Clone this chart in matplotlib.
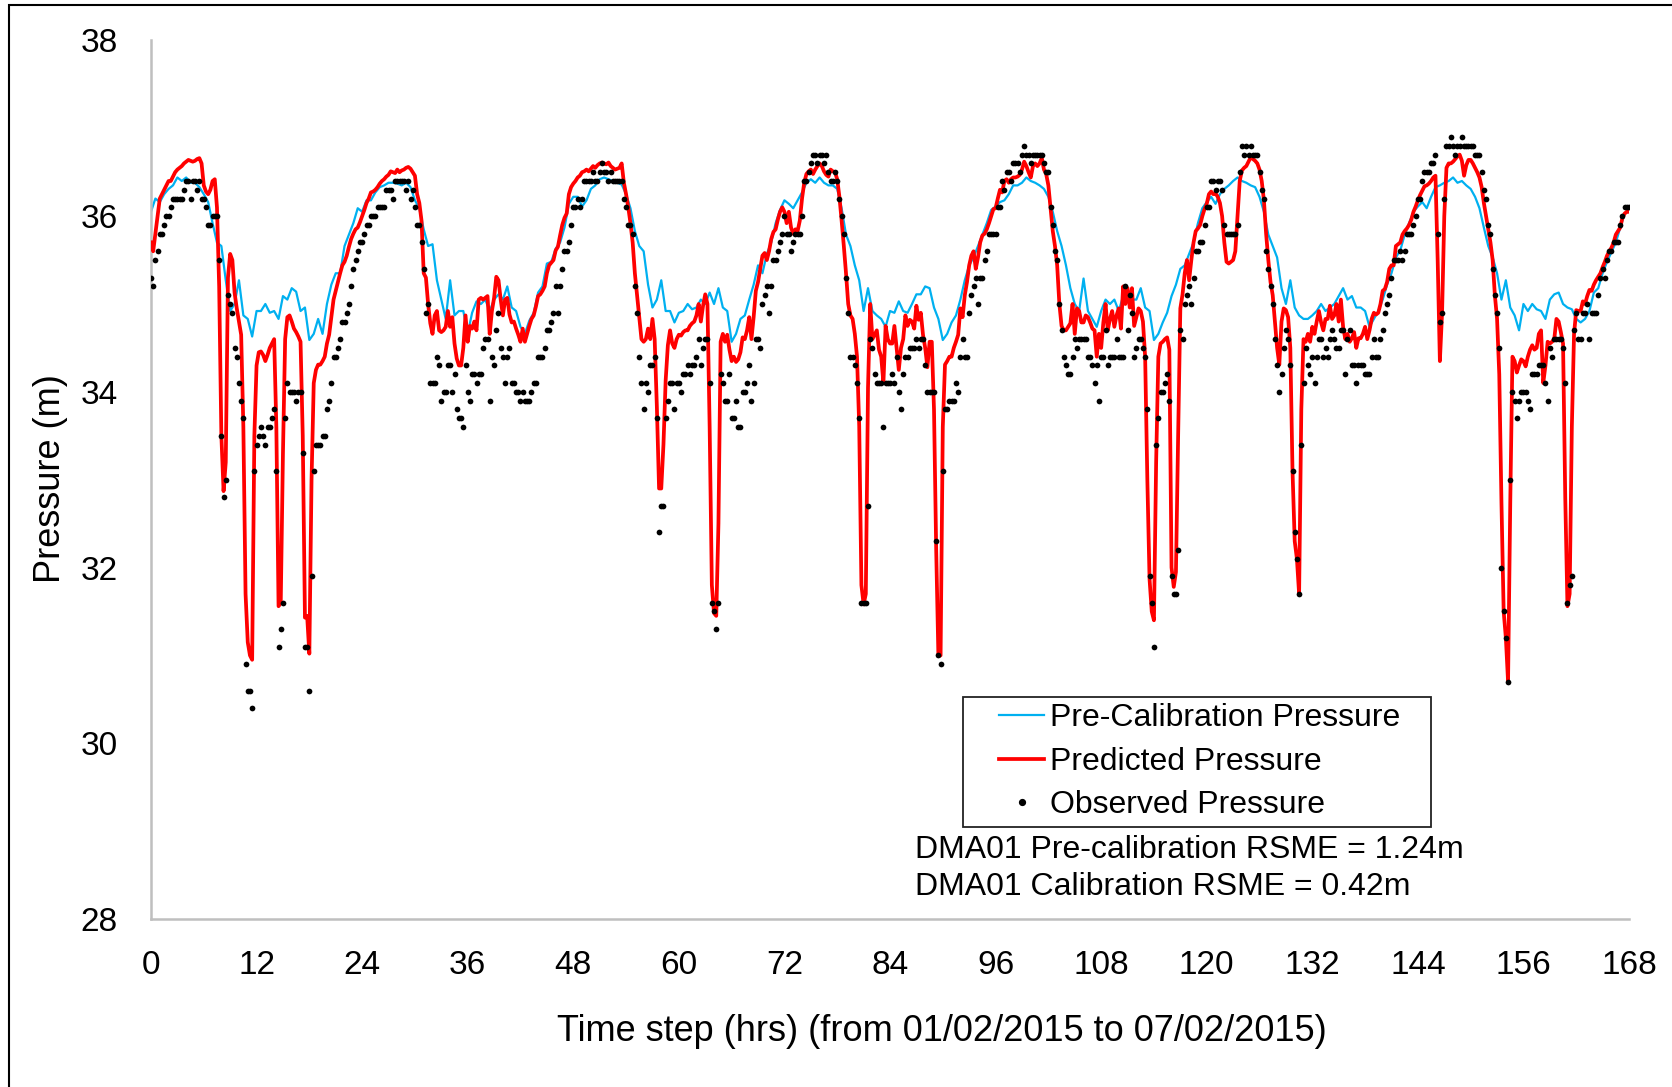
import numpy as np
import matplotlib
matplotlib.use("Agg")
import matplotlib.pyplot as plt
from matplotlib.lines import Line2D
from matplotlib.patches import Rectangle

plt.rcParams['font.family'] = ['Liberation Sans', 'DejaVu Sans']

# ---------------------------------------------------------------- data
# Pre-calibration model pressure (m), every 0.5 h from 0 to 168 h
pre_calibration = [
    36.05, 36.2, 36.16, 36.25, 36.31, 36.35, 36.44, 36.4, 36.44, 36.38, 36.38, 36.33, 36.25, 36.16,
    35.92, 35.7, 35.66, 35.27, 34.92, 35.0, 35.27, 34.87, 34.83, 34.63, 34.92, 34.92, 35.0, 34.9,
    34.92, 34.83, 35.09, 35.05, 35.18, 35.14, 34.92, 34.96, 34.59, 34.66, 34.83, 34.66, 35.0, 35.22,
    35.35, 35.35, 35.66, 35.79, 35.92, 36.09, 36.05, 36.18, 36.18, 36.27, 36.33, 36.35, 36.38, 36.38,
    # 28 h
    36.37, 36.35, 36.38, 36.33, 36.18, 36.09, 35.85, 35.66, 35.68, 35.27, 35.05, 34.83, 35.27, 34.87,
    34.92, 34.92, 34.66, 34.9, 35.03, 35.0, 35.05, 34.92, 35.05, 35.11, 35.05, 35.2, 34.96, 34.92,
    34.74, 34.66, 34.81, 34.9, 35.13, 35.2, 35.46, 35.48, 35.63, 35.7, 35.87, 36.14, 36.22, 36.22,
    36.11, 36.18, 36.31, 36.35, 36.42, 36.44, 36.42, 36.4, 36.38, 36.36, 36.25, 36.09, 35.83, 35.66,
    # 56 h
    35.6, 35.22, 34.96, 35.05, 35.27, 34.92, 34.92, 34.79, 34.9, 34.92, 35.0, 34.94, 34.96, 35.05,
    35.0, 35.13, 35.0, 35.18, 34.96, 34.92, 34.57, 34.66, 34.83, 34.87, 35.05, 35.22, 35.44, 35.35,
    35.57, 35.7, 35.92, 36.07, 36.18, 36.14, 36.09, 36.18, 36.27, 36.38, 36.42, 36.38, 36.44, 36.38,
    36.35, 36.35, 36.31, 36.09, 35.79, 35.66, 35.44, 35.27, 34.92, 35.18, 34.92, 34.87, 34.83, 34.74,
    # 84 h
    34.92, 34.9, 35.03, 34.92, 34.9, 35.0, 35.11, 35.11, 35.2, 35.18, 34.96, 34.83, 34.59, 34.66,
    34.79, 34.87, 35.05, 35.27, 35.44, 35.53, 35.66, 35.79, 35.92, 36.07, 36.11, 36.16, 36.18, 36.25,
    36.35, 36.35, 36.38, 36.44, 36.4, 36.38, 36.35, 36.31, 36.22, 36.05, 35.83, 35.66, 35.44, 35.18,
    35.0, 34.92, 35.29, 34.92, 34.83, 34.74, 34.92, 35.05, 35.0, 35.05, 34.92, 35.09, 35.11, 35.05,
    # 112 h
    35.05, 35.18, 34.96, 34.92, 34.59, 34.66, 34.79, 34.9, 35.09, 35.22, 35.4, 35.44, 35.57, 35.7,
    35.92, 36.09, 36.16, 36.22, 36.14, 36.25, 36.31, 36.35, 36.4, 36.44, 36.4, 36.38, 36.35, 36.33,
    36.22, 36.05, 35.79, 35.66, 35.53, 35.18, 35.0, 35.27, 34.96, 34.87, 34.83, 34.83, 34.87, 34.92,
    35.0, 34.92, 34.96, 35.0, 35.09, 35.18, 35.05, 35.09, 34.96, 34.96, 34.92, 34.74, 34.83, 34.92,
    # 140 h
    35.05, 35.22, 35.35, 35.53, 35.61, 35.79, 35.92, 36.05, 36.11, 36.16, 36.09, 36.22, 36.33, 36.35,
    36.38, 36.4, 36.44, 36.38, 36.4, 36.35, 36.31, 36.22, 36.09, 35.87, 35.66, 35.53, 35.35, 35.05,
    35.27, 34.96, 34.87, 34.7, 35.0, 34.92, 35.0, 34.94, 34.92, 34.83, 35.05, 35.11, 35.13, 35.0,
    34.96, 34.94, 34.83, 34.79, 34.83, 34.92, 35.13, 35.18, 35.35, 35.48, 35.59, 35.7, 35.87, 36.03,
    36.05,
]

# Calibrated model pressure (m), every 0.25 h; one row = one hour
predicted = [
    35.7, 35.6, 35.8, 36.0,   36.2, 36.25, 36.3, 36.35,   36.4, 36.4, 36.45, 36.5,   36.53, 36.55, 36.57, 36.6,
    36.62, 36.64, 36.63, 36.62,   36.63, 36.65, 36.66, 36.6,   36.35, 36.28, 36.25, 36.3,   36.4, 36.42, 36.1, 35.2,
    33.5, 32.87, 33.2, 35.3,   35.57, 35.5, 35.13, 34.95,   34.8, 34.65, 33.6, 31.7,   31.15, 31.0, 30.95, 33.5,
    34.3, 34.45, 34.46, 34.42,   34.35, 34.42, 34.5, 34.55,   34.6, 33.6, 31.56, 31.6,   33.3, 34.6, 34.85, 34.87,
    34.8, 34.72, 34.68, 34.63,   34.57, 33.5, 31.43, 31.45,   31.02, 33.0, 34.1, 34.25,   34.31, 34.31, 34.35, 34.4,
    34.55, 34.65, 34.85, 35.05,   35.15, 35.25, 35.35, 35.44,   35.48, 35.55, 35.65, 35.74,   35.8, 35.85, 35.87, 35.93,
    # 24 h
    36.0, 36.07, 36.15, 36.2,   36.27, 36.28, 36.3, 36.33,   36.37, 36.4, 36.42, 36.45,   36.47, 36.51, 36.5, 36.49,
    36.53, 36.5, 36.52, 36.53,   36.55, 36.56, 36.54, 36.5,   36.46, 36.25, 36.15, 35.95,   35.35, 35.3, 35.0, 34.78,
    34.66, 34.87, 34.92, 34.7,   34.68, 34.7, 34.74, 34.92,   34.74, 34.85, 34.55, 34.38,   34.3, 34.3, 34.5, 34.87,
    34.57, 34.75, 34.72, 34.8,   34.7, 35.05, 35.07, 35.05,   35.07, 35.09, 34.66, 34.92,   35.07, 35.31, 35.27, 35.05,
    34.87, 35.05, 35.07, 34.88,   34.79, 34.8, 34.72, 34.65,   34.57, 34.72, 34.57, 34.66,   34.75, 34.83, 34.87, 34.97,
    35.09, 35.11, 35.15, 35.2,   35.35, 35.44, 35.47, 35.5,   35.61, 35.65, 35.78, 35.9,   35.98, 36.03, 36.25, 36.33,
    # 48 h
    36.37, 36.4, 36.44, 36.46,   36.5, 36.51, 36.53, 36.51,   36.54, 36.57, 36.55, 36.58,   36.6, 36.61, 36.6, 36.59,
    36.61, 36.57, 36.55, 36.53,   36.54, 36.55, 36.6, 36.38,   36.25, 36.1, 35.92, 35.7,   35.35, 35.1, 34.85, 34.6,
    34.57, 34.6, 34.72, 34.6,   34.83, 34.6, 33.83, 32.9,   32.9, 33.4, 34.13, 34.53,   34.7, 34.55, 34.5, 34.6,
    34.65, 34.64, 34.68, 34.7,   34.7, 34.75, 34.78, 34.8,   34.87, 35.0, 34.8, 34.98,   35.11, 35.0, 33.6, 31.8,
    31.48, 31.45, 32.5, 34.57,   34.66, 34.57, 34.65, 34.48,   34.35, 34.4, 34.34, 34.37,   34.45, 34.62, 34.6, 34.7,
    34.85, 34.6, 34.85, 35.15,   35.25, 35.4, 35.55, 35.58,   35.5, 35.6, 35.74, 35.82,   35.85, 35.96, 36.05, 36.1,
    # 72 h
    36.05, 35.92, 36.05, 35.87,   35.8, 35.85, 35.83, 35.95,   36.2, 36.38, 36.48, 36.51,   36.53, 36.48, 36.53, 36.57,
    36.6, 36.57, 36.51, 36.47,   36.45, 36.53, 36.51, 36.5,   36.42, 36.22, 35.95, 35.66,   35.35, 35.0, 34.87, 34.83,
    34.66, 34.4, 33.61, 31.8,   31.58, 31.7, 34.05, 35.0,   34.6, 34.65, 34.7, 34.48,   34.4, 34.1, 34.75, 34.6,
    34.55, 34.55, 34.75, 34.5,   34.25, 34.5, 34.6, 34.87,   34.75, 34.82, 34.8, 34.72,   34.98, 34.82, 34.9, 34.65,
    34.5, 34.28, 34.57, 34.57,   33.8, 32.2, 30.99, 31.0,   33.6, 34.31, 34.35, 34.4,   34.4, 34.5, 34.57, 34.65,
    34.95, 34.85, 35.1, 35.25,   35.44, 35.55, 35.6, 35.4,   35.53, 35.7, 35.78, 35.8,   35.85, 35.92, 36.0, 36.08,
    # 96 h
    36.09, 36.2, 36.3, 36.27,   36.4, 36.42, 36.38, 36.42,   36.44, 36.44, 36.45, 36.47,   36.53, 36.62, 36.57, 36.5,
    36.44, 36.57, 36.6, 36.57,   36.6, 36.66, 36.53, 36.48,   36.35, 36.09, 35.83, 35.66,   35.44, 35.0, 34.75, 34.7,
    34.7, 34.74, 34.78, 35.0,   34.66, 34.95, 34.92, 34.79,   34.79, 34.87, 34.85, 34.79,   34.72, 34.7, 34.4, 34.66,
    34.5, 34.79, 35.0, 34.7,   34.83, 34.92, 34.74, 34.87,   34.95, 34.72, 35.2, 35.0,   35.18, 34.96, 35.18, 34.75,
    34.85, 34.95, 34.92, 34.8,   34.4, 33.0, 31.87, 31.5,   31.4, 33.2, 34.4, 34.55,   34.57, 34.6, 34.62, 34.48,
    32.0, 31.78, 31.95, 33.5,   34.95, 35.11, 35.35, 35.5,   35.27, 35.5, 35.7, 35.83,   35.86, 35.9, 36.0, 36.08,
    # 120 h
    36.14, 36.25, 36.28, 36.25,   36.26, 36.22, 36.15, 36.0,   35.7, 35.48, 35.46, 35.48,   35.5, 35.6, 36.0, 36.4,
    36.52, 36.55, 36.57, 36.62,   36.67, 36.65, 36.63, 36.6,   36.53, 36.4, 36.18, 35.8,   35.5, 35.25, 35.1, 34.8,
    34.5, 34.31, 34.8, 34.95,   34.93, 34.85, 34.5, 33.1,   32.3, 32.1, 31.7, 33.8,   34.6, 34.57, 34.66, 34.57,
    34.74, 34.66, 34.8, 34.92,   34.79, 34.7, 34.83, 34.83,   34.98, 34.83, 34.87, 35.0,   34.8, 35.05, 34.74, 34.6,
    34.66, 34.57, 34.61, 34.68,   34.5, 34.61, 34.61, 34.66,   34.74, 34.6, 34.7, 34.83,   34.9, 34.88, 34.9, 35.0,
    35.15, 35.17, 35.25, 35.4,   35.44, 35.44, 35.66, 35.68,   35.7, 35.79, 35.83, 35.86,   35.9, 35.96, 36.05, 36.11,
    # 144 h
    36.18, 36.24, 36.29, 36.34,   36.35, 36.37, 36.4, 36.44,   36.46, 35.5, 34.35, 34.9,   36.0, 36.55, 36.6, 36.6,
    36.62, 36.65, 36.68, 36.7,   36.63, 36.46, 36.58, 36.64,   36.64, 36.6, 36.55, 36.5,   36.44, 36.33, 36.15, 36.0,
    35.85, 35.7, 35.5, 35.1,   34.83, 34.2, 32.74, 31.5,   31.2, 30.7, 32.74, 34.4,   34.35, 34.22, 34.3, 34.37,
    34.35, 34.29, 34.4, 34.48,   34.53, 34.48, 34.5, 34.66,   34.7, 34.1, 34.3, 34.57,   34.55, 34.57, 34.6, 34.83,
    34.8, 34.68, 34.55, 32.8,   31.56, 31.7, 33.6, 34.66,   34.93, 34.92, 34.92, 35.03,   35.0, 35.09, 35.16, 35.15,
    35.22, 35.27, 35.31, 35.35,   35.42, 35.48, 35.55, 35.6,   35.64, 35.7, 35.79, 35.83,   35.87, 35.98, 36.03, 36.05,
    36.05,
]

# Logged pressure (m), every 0.25 h; one row = one hour
observed = [
    35.3, 35.2, 35.5, 35.6,   35.8, 35.8, 35.9, 36.0,   36.0, 36.1, 36.2, 36.2,   36.2, 36.2, 36.2, 36.3,
    36.4, 36.4, 36.2, 36.4,   36.4, 36.3, 36.4, 36.2,   36.2, 36.1, 35.9, 35.9,   36.0, 36.0, 36.0, 35.5,
    33.5, 32.8, 33.0, 35.1,   35.0, 34.9, 34.5, 34.4,   34.1, 33.9, 33.7, 30.9,   30.6, 30.6, 30.4, 33.1,
    33.4, 33.5, 33.6, 33.5,   33.4, 33.6, 33.6, 33.7,   33.8, 33.1, 31.1, 31.3,   31.6, 33.7, 34.1, 34.0,
    34.0, 34.0, 33.9, 34.0,   34.0, 33.3, 31.1, 31.1,   30.6, 31.9, 33.1, 33.4,   33.4, 33.4, 33.5, 33.5,
    33.8, 33.9, 34.1, 34.4,   34.4, 34.5, 34.6, 34.8,   34.8, 34.9, 35.0, 35.2,   35.4, 35.5, 35.6, 35.7,
    # 24 h
    35.7, 35.8, 35.9, 35.9,   36.0, 36.0, 36.0, 36.1,   36.1, 36.1, 36.1, 36.3,   36.3, 36.3, 36.2, 36.4,
    36.4, 36.4, 36.4, 36.4,   36.3, 36.4, 36.2, 36.3,   36.1, 35.9, 35.9, 35.7,   35.4, 34.9, 35.0, 34.1,
    34.1, 34.1, 34.4, 34.3,   33.9, 34.0, 34.0, 34.3,   34.3, 34.0, 34.2, 33.8,   33.7, 33.7, 33.6, 34.3,
    34.0, 33.9, 34.2, 34.2,   34.1, 34.2, 34.2, 34.5,   34.6, 34.6, 33.9, 34.4,   34.3, 34.7, 34.9, 34.5,
    34.4, 34.1, 34.4, 34.5,   34.1, 34.1, 34.0, 34.0,   33.9, 34.0, 33.9, 33.9,   33.9, 34.0, 34.1, 34.1,
    34.4, 34.4, 34.4, 34.5,   34.7, 34.7, 34.8, 34.9,   35.2, 34.9, 35.2, 35.4,   35.6, 35.6, 35.7, 35.9,
    # 48 h
    36.1, 36.1, 36.2, 36.1,   36.2, 36.4, 36.4, 36.4,   36.4, 36.5, 36.4, 36.4,   36.5, 36.6, 36.5, 36.5,
    36.4, 36.5, 36.4, 36.4,   36.4, 36.4, 36.4, 36.2,   36.1, 35.9, 35.9, 35.8,   35.2, 34.9, 34.4, 34.1,
    33.8, 34.1, 34.0, 34.3,   34.3, 34.4, 33.7, 32.4,   32.7, 32.7, 33.7, 33.9,   34.1, 34.1, 33.8, 34.1,
    34.1, 34.0, 34.2, 34.2,   34.3, 34.2, 34.3, 34.3,   34.4, 34.6, 34.3, 34.5,   34.6, 34.6, 34.1, 31.6,
    31.5, 31.3, 31.6, 34.2,   34.1, 33.9, 33.9, 34.2,   33.7, 33.7, 33.9, 33.6,   33.6, 34.0, 34.0, 34.1,
    34.3, 33.9, 34.1, 34.6,   34.6, 34.5, 35.0, 35.1,   35.2, 34.9, 35.2, 35.5,   35.5, 35.6, 35.7, 35.8,
    # 72 h
    36.0, 35.8, 35.8, 35.6,   35.7, 35.8, 35.8, 35.8,   36.0, 36.4, 36.4, 36.5,   36.6, 36.7, 36.7, 36.6,
    36.7, 36.7, 36.6, 36.7,   36.5, 36.4, 36.4, 36.5,   36.4, 36.2, 36.0, 35.8,   35.3, 34.9, 34.4, 34.4,
    34.3, 34.1, 33.7, 31.6,   31.6, 31.6, 32.7, 34.6,   34.5, 34.2, 34.1, 34.1,   34.1, 33.6, 34.1, 34.1,
    34.1, 34.2, 34.1, 34.4,   34.0, 33.8, 34.2, 34.4,   34.4, 34.5, 34.5, 34.5,   34.6, 34.5, 34.6, 34.6,
    34.3, 34.0, 34.0, 34.0,   34.0, 32.3, 31.0, 30.9,   33.1, 33.8, 33.8, 33.9,   33.9, 33.9, 34.1, 34.0,
    34.4, 34.6, 34.4, 34.4,   34.9, 35.1, 35.2, 35.3,   35.0, 35.3, 35.3, 35.5,   35.6, 35.8, 35.8, 35.8,
    # 96 h
    35.8, 36.1, 36.1, 36.4,   36.3, 36.5, 36.5, 36.4,   36.6, 36.6, 36.6, 36.5,   36.7, 36.8, 36.7, 36.7,
    36.6, 36.7, 36.7, 36.7,   36.7, 36.7, 36.6, 36.5,   36.5, 36.1, 35.9, 35.6,   35.5, 35.0, 34.7, 34.4,
    34.3, 34.2, 34.2, 34.4,   34.6, 34.5, 34.6, 34.6,   34.6, 34.6, 34.4, 34.4,   34.3, 34.1, 34.3, 33.9,
    34.4, 34.4, 34.7, 34.3,   34.4, 34.4, 34.4, 34.6,   34.4, 34.4, 34.4, 35.2,   34.7, 35.1, 34.9, 34.4,
    34.5, 34.6, 34.6, 34.5,   34.4, 33.8, 31.9, 31.6,   31.1, 33.4, 33.7, 34.0,   34.0, 34.1, 34.2, 33.9,
    31.9, 31.7, 31.7, 32.2,   34.7, 34.6, 35.0, 35.1,   35.2, 35.0, 35.3, 35.6,   35.6, 35.7, 35.7, 35.9,
    # 120 h
    36.1, 36.1, 36.4, 36.4,   36.3, 36.4, 36.4, 36.3,   35.9, 35.8, 35.8, 35.8,   35.8, 35.8, 35.9, 36.5,
    36.8, 36.7, 36.8, 36.7,   36.8, 36.7, 36.7, 36.7,   36.5, 36.3, 36.2, 35.6,   35.4, 35.2, 35.0, 34.6,
    34.3, 34.0, 34.2, 34.5,   34.7, 34.6, 34.3, 33.1,   32.4, 32.1, 31.7, 33.4,   34.1, 34.5, 34.3, 34.2,
    34.4, 34.1, 34.4, 34.6,   34.6, 34.4, 34.5, 34.4,   34.6, 34.7, 34.6, 34.5,   34.5, 34.7, 34.7, 34.2,
    34.6, 34.7, 34.3, 34.3,   34.1, 34.3, 34.3, 34.3,   34.2, 34.2, 34.2, 34.4,   34.6, 34.4, 34.4, 34.6,
    34.7, 34.9, 35.0, 35.1,   35.3, 35.5, 35.5, 35.5,   35.6, 35.5, 35.6, 35.8,   35.8, 35.8, 35.9, 36.0,
    # 144 h
    36.2, 36.2, 36.4, 36.5,   36.5, 36.5, 36.6, 36.6,   36.7, 35.8, 34.8, 34.9,   36.2, 36.8, 36.8, 36.9,
    36.8, 36.7, 36.8, 36.8,   36.9, 36.8, 36.8, 36.8,   36.8, 36.8, 36.7, 36.7,   36.7, 36.5, 36.3, 36.2,
    35.9, 35.8, 35.4, 35.1,   34.9, 34.5, 32.0, 31.5,   31.2, 30.7, 33.0, 34.0,   33.9, 33.7, 33.9, 34.0,
    34.0, 34.0, 33.9, 33.8,   34.2, 34.2, 34.2, 34.3,   34.3, 34.3, 34.1, 33.9,   34.5, 34.4, 34.6, 34.6,
    34.6, 34.6, 34.5, 34.1,   31.6, 31.8, 31.9, 34.7,   34.9, 34.6, 34.6, 34.9,   34.9, 35.0, 34.6, 34.9,
    34.9, 34.9, 35.1, 35.3,   35.4, 35.3, 35.5, 35.6,   35.6, 35.7, 35.7, 35.7,   35.9, 36.0, 36.1, 36.1,
    36.1,
]

x_ticks = [0, 12, 24, 36, 48, 60, 72, 84, 96, 108, 120, 132, 144, 156, 168]
y_ticks = [28, 30, 32, 34, 36, 38]

series_labels = ["Pre-Calibration Pressure", "Predicted Pressure", "Observed Pressure"]
rmse_lines = ["DMA01 Pre-calibration RSME = 1.24m", "DMA01 Calibration RSME = 0.42m"]

assert len(pre_calibration) == 337
assert len(predicted) == 673
assert len(observed) == 673

t_half = np.arange(len(pre_calibration)) * 0.5
t_quarter = np.arange(len(predicted)) * 0.25

# ---------------------------------------------------------------- figure
BLUE = "#00B0F0"
RED = "#FF0000"
GREY = "#BFBFBF"

fig = plt.figure(figsize=(16.72, 10.87), dpi=100)
ax = fig.add_axes([0.0903, 0.1546, 0.884, 0.8082])

ax.plot(t_half, pre_calibration, color=BLUE, lw=1.6, zorder=2)
ax.plot(t_quarter, predicted, color=RED, lw=2.7, zorder=3)
ax.scatter(t_quarter, observed, s=17, color="black", linewidths=0, zorder=4)

ax.set_xlim(0, 168)
ax.set_ylim(28, 38)
ax.set_xticks(x_ticks)
ax.set_yticks(y_ticks)
ax.tick_params(axis="both", length=0, labelsize=24)
ax.tick_params(axis="x", pad=22)
ax.tick_params(axis="y", pad=24)

for side in ("top", "right"):
    ax.spines[side].set_visible(False)
for side in ("left", "bottom"):
    ax.spines[side].set_color(GREY)
    ax.spines[side].set_linewidth(1.8)

ax.set_xlabel("Time step (hrs) (from 01/02/2015 to 07/02/2015)", fontsize=26, va="center")
ax.xaxis.set_label_coords(0.535, -0.1286)
ax.set_ylabel("Pressure (m)", fontsize=26, va="center")
ax.yaxis.set_label_coords(-0.0677, 0.5009)

handles = [
    Line2D([], [], color=BLUE, lw=1.6),
    Line2D([], [], color=RED, lw=2.7),
    Line2D([], [], color="black", marker="o", markersize=4.2, linestyle="none"),
]
leg = ax.legend(handles, series_labels, loc="upper left",
                bbox_to_anchor=(993 / 1672, 1 - 697 / 1087), bbox_transform=fig.transFigure,
                frameon=False, fontsize=23, handlelength=1.4, handletextpad=0.2,
                labelspacing=0.42, borderpad=0.2, borderaxespad=0)

# legend frame, padded wider than the entries on both sides
fig.canvas.draw()
bb = leg.get_window_extent().transformed(fig.transFigure.inverted())
pad_l = 30 / 1672
pad_r = 24 / 1672
fig.patches.append(Rectangle((bb.x0 - pad_l, bb.y0), bb.width + pad_l + pad_r, bb.height,
                             transform=fig.transFigure, fill=False, edgecolor="#222222",
                             lw=1.3, zorder=5))

fig.text(915 / 1672, 1 - 850 / 1087, rmse_lines[0], fontsize=23, va="center", ha="left")
fig.text(915 / 1672, 1 - 887 / 1087, rmse_lines[1], fontsize=23, va="center", ha="left")

# outer frame (left and top edges visible)
fig.patches.append(Rectangle((9 / 1672, -0.01), 1.02, 1.01 - 5 / 1087,
                             transform=fig.transFigure, fill=False, edgecolor="black", lw=1.5))

fig.savefig("out.png", dpi=100)
